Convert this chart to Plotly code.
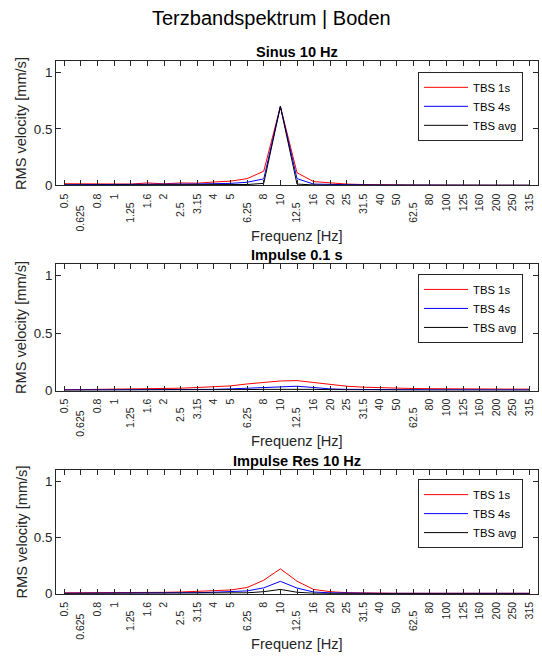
import plotly.graph_objects as go

# ---------------- data ----------------
freq_labels = ["0.5", "0.625", "0.8", "1", "1.25", "1.6", "2", "2.5", "3.15", "4",
               "5", "6.25", "8", "10", "12.5", "16", "20", "25", "31.5", "40",
               "50", "62.5", "80", "100", "125", "160", "200", "250", "315"]

series_names = ["TBS 1s", "TBS 4s", "TBS avg"]
panel_titles = ["Sinus 10 Hz", "Impulse 0.1 s", "Impulse Res 10 Hz"]

# Sinus 10 Hz
sinus_1s = [0.015, 0.015, 0.013, 0.013, 0.012, 0.022, 0.014, 0.022, 0.020, 0.030,
            0.038, 0.060, 0.126, 0.700, 0.112, 0.034, 0.020, 0.012, 0.008, 0.005,
            0.004, 0.003, 0.003, 0.002, 0.002, 0.002, 0.002, 0.001, 0.001]
sinus_4s = [0.006, 0.006, 0.006, 0.006, 0.006, 0.008, 0.008, 0.012, 0.013, 0.015,
            0.018, 0.028, 0.058, 0.700, 0.060, 0.012, 0.008, 0.005, 0.004, 0.003,
            0.002, 0.002, 0.002, 0.002, 0.001, 0.001, 0.001, 0.001, 0.001]
sinus_avg = [0.003, 0.003, 0.003, 0.003, 0.003, 0.004, 0.004, 0.005, 0.005, 0.006,
             0.007, 0.008, 0.018, 0.700, 0.012, 0.004, 0.003, 0.002, 0.002, 0.001,
             0.001, 0.001, 0.001, 0.001, 0.001, 0.001, 0.001, 0.001, 0.001]

# Impulse 0.1 s
imp_1s = [0.006, 0.006, 0.009, 0.012, 0.014, 0.015, 0.017, 0.020, 0.026, 0.032,
          0.040, 0.057, 0.072, 0.083, 0.086, 0.069, 0.052, 0.037, 0.029, 0.023,
          0.020, 0.017, 0.016, 0.014, 0.013, 0.013, 0.012, 0.012, 0.012]
imp_4s = [0.004, 0.004, 0.005, 0.005, 0.006, 0.006, 0.007, 0.008, 0.009, 0.010,
          0.014, 0.020, 0.026, 0.034, 0.037, 0.026, 0.014, 0.010, 0.008, 0.007,
          0.007, 0.006, 0.006, 0.006, 0.006, 0.005, 0.005, 0.005, 0.005]
imp_avg = [0.002, 0.002, 0.002, 0.003, 0.003, 0.003, 0.003, 0.004, 0.004, 0.005,
           0.006, 0.008, 0.010, 0.012, 0.013, 0.010, 0.007, 0.005, 0.004, 0.003,
           0.003, 0.003, 0.003, 0.003, 0.003, 0.002, 0.002, 0.002, 0.002]

# Impulse Res 10 Hz
res_1s = [0.008, 0.008, 0.008, 0.011, 0.012, 0.012, 0.012, 0.015, 0.020, 0.026,
          0.033, 0.055, 0.120, 0.221, 0.111, 0.038, 0.018, 0.009, 0.006, 0.005,
          0.004, 0.004, 0.004, 0.004, 0.004, 0.004, 0.004, 0.004, 0.004]
res_4s = [0.004, 0.004, 0.004, 0.005, 0.005, 0.006, 0.006, 0.007, 0.009, 0.013,
          0.018, 0.025, 0.052, 0.110, 0.050, 0.015, 0.008, 0.005, 0.004, 0.003,
          0.003, 0.003, 0.003, 0.003, 0.003, 0.003, 0.003, 0.003, 0.003]
res_avg = [0.002, 0.002, 0.002, 0.002, 0.002, 0.002, 0.003, 0.003, 0.004, 0.005,
           0.006, 0.008, 0.018, 0.038, 0.013, 0.004, 0.002, 0.002, 0.002, 0.001,
           0.001, 0.001, 0.001, 0.001, 0.001, 0.001, 0.001, 0.001, 0.001]

panels = [
    [sinus_1s, sinus_4s, sinus_avg],
    [imp_1s, imp_4s, imp_avg],
    [res_1s, res_4s, res_avg],
]
series_colors = ["#ff0000", "#0000ff", "#000000"]

# labels that MATLAB draws slightly further from the axis (stagger emulation)
stagger = {"0.625": 4, "1.25": 3, "2.5": 3, "6.25": 3, "12.5": 3, "62.5": 3}

# ---------------- layout helpers ----------------
W, H = 542, 659
def px_x(x):
    return x / W
def px_y(y):
    return 1 - y / H

ax_left, ax_right = 56, 538
panel_px = [(62, 187.7), (267.3, 395.3), (475.7, 601)]
legend_top_px = [72.7, 277.3, 485]
legend_right_px = 523

tick_text = [lab + "\u00a0" * stagger.get(lab, 0) for lab in freq_labels]
xs = list(range(len(freq_labels)))

AX = "#262626"
FONT = "Liberation Sans, Arial, Helvetica, sans-serif"

fig = go.Figure()
annotations = []
layout_axes = {}

for i, (data, title) in enumerate(zip(panels, panel_titles)):
    n = i + 1
    xa = "x" if n == 1 else f"x{n}"
    ya = "y" if n == 1 else f"y{n}"
    leg = "legend" if n == 1 else f"legend{n}"
    for vals, name, col in zip(data, series_names, series_colors):
        fig.add_trace(go.Scatter(
            x=xs, y=vals, mode="lines", name=name,
            line=dict(color=col, width=1),
            xaxis=xa, yaxis=ya, legend=leg, showlegend=True,
        ))
    top, bot = panel_px[i]
    layout_axes[f"xaxis{'' if n == 1 else n}"] = dict(
        domain=[px_x(ax_left), px_x(ax_right)],
        anchor=ya, range=[-0.5, len(freq_labels) - 0.5],
        tickmode="array", tickvals=xs, ticktext=tick_text,
        tickangle=-90, ticks="inside", ticklen=5, tickcolor=AX, tickwidth=1,
        showline=True, linecolor=AX, linewidth=1, mirror="ticks",
        showgrid=False, zeroline=False,
        tickfont=dict(family=FONT, size=10.5, color=AX),
        ticklabelstandoff=3,
    )
    layout_axes[f"yaxis{'' if n == 1 else n}"] = dict(
        domain=[px_y(bot), px_y(top)],
        anchor=xa, range=[0, 1.1],
        tickmode="array", tickvals=[0, 0.5, 1], ticktext=["0", "0.5", "1"],
        ticks="inside", ticklen=5, tickcolor=AX, tickwidth=1,
        showline=True, linecolor=AX, linewidth=1, mirror="ticks",
        showgrid=False, zeroline=False,
        tickfont=dict(family=FONT, size=13.3, color=AX),
    )
    layout_axes[leg] = dict(
        x=px_x(legend_right_px), xanchor="right",
        y=px_y(legend_top_px[i]), yanchor="top",
        bgcolor="white", bordercolor=AX, borderwidth=1,
        font=dict(family=FONT, size=11.3, color="#000000"),
        itemwidth=44, tracegroupgap=0,
    )
    cx = px_x((ax_left + ax_right) / 2)
    # subplot title
    annotations.append(dict(
        text=f"<b>{title}</b>", x=cx, y=px_y(top - 9.5), xref="paper", yref="paper",
        xanchor="center", yanchor="middle", showarrow=False,
        font=dict(family=FONT, size=14.6, color="#000000"),
    ))
    # x axis title
    annotations.append(dict(
        text="Frequenz [Hz]", x=cx, y=px_y(bot + 51), xref="paper", yref="paper",
        xanchor="center", yanchor="middle", showarrow=False,
        font=dict(family=FONT, size=14.6, color=AX),
    ))
    # y axis title
    annotations.append(dict(
        text="RMS velocity [mm/s]", x=px_x(21.7), y=px_y((top + bot) / 2),
        xref="paper", yref="paper", xanchor="center", yanchor="middle",
        textangle=-90, showarrow=False,
        font=dict(family=FONT, size=14.6, color=AX),
    ))

annotations.append(dict(
    text="Terzbandspektrum | Boden", x=0.5, y=px_y(18), xref="paper", yref="paper",
    xanchor="center", yanchor="middle", showarrow=False,
    font=dict(family=FONT, size=20, color="#000000"),
))

fig.update_layout(
    width=W, height=H, autosize=False,
    margin=dict(l=0, r=0, t=0, b=0),
    paper_bgcolor="white", plot_bgcolor="white",
    annotations=annotations,
    **layout_axes,
)

fig.write_html("out.html")
